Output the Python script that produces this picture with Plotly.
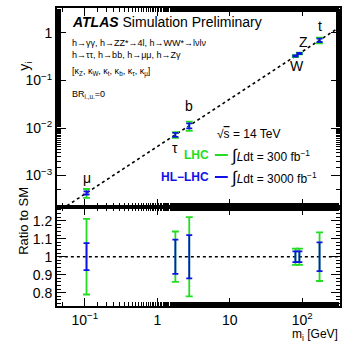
import numpy as np
import plotly.graph_objects as go

# ---- data ----
particles = ["μ", "τ", "b", "W", "Z", "t"]
masses = [0.1057, 1.777, 2.76, 80.4, 91.2, 173.0]
yvals = [4.3e-4, 7.2e-3, 1.12e-2, 0.327, 0.371, 0.703]
err_lhc = [0.21, 0.14, 0.22, 0.045, 0.045, 0.135]
err_hl = [0.075, 0.095, 0.12, 0.03, 0.03, 0.08]
ratio = [1, 1, 1, 1, 1, 1]
line_m = [0.03, 500.0]
line_y = [0.03 / 246.0, 500.0 / 246.0]
xtick_vals = [0.1, 1, 10, 100]
xtick_text = ["10<sup>−1</sup>", "1", "10", "10<sup>2</sup>"]
ytick_vals = [1e-3, 1e-2, 1e-1, 1]
ytick_text = ["10<sup>−3</sup>", "10<sup>−2</sup>", "10<sup>−1</sup>", "1"]
rtick_vals = [0.8, 0.9, 1.0, 1.1, 1.2]
rtick_text = ["0.8", "0.9", "1", "1.1", "1.2"]
label_shift = [(0, 15), (0, -13), (0, 20), (2, -10), (4, 11), (0, 14)]

GREEN = "#22dd22"
BLUE = "#1010e8"
FONT = "Liberation Sans"

W, H = 347, 342
ML, MR, MT, MB = 57, 5, 8, 36
split_px = 207
pw = W - ML - MR
ph = H - MT - MB


def px_x(p):
    return (p - ML) / pw


def px_y(p):
    return (H - MB - p) / ph


split = px_y(split_px)

fig = go.Figure()

# top panel
fig.add_trace(go.Scatter(x=line_m, y=line_y, mode="lines",
                         line=dict(color="black", width=1.6, dash="dot"),
                         xaxis="x", yaxis="y", showlegend=False, hoverinfo="skip"))
yv = np.array(yvals)
fig.add_trace(go.Scatter(x=masses, y=yvals, mode="markers",
                         marker=dict(size=1, color=GREEN),
                         error_y=dict(type="data", symmetric=False,
                                      array=list(yv * np.array(err_lhc)),
                                      arrayminus=list(yv * np.array(err_lhc)),
                                      color=GREEN, thickness=1.8, width=3.5),
                         xaxis="x", yaxis="y", showlegend=False))
fig.add_trace(go.Scatter(x=masses, y=yvals, mode="markers",
                         marker=dict(size=1, color=BLUE),
                         error_y=dict(type="data", symmetric=False,
                                      array=list(yv * np.array(err_hl)),
                                      arrayminus=list(yv * np.array(err_hl)),
                                      color=BLUE, thickness=1.8, width=3),
                         xaxis="x", yaxis="y", showlegend=False))

# bottom panel
fig.add_trace(go.Scatter(x=line_m, y=[1, 1], mode="lines",
                         line=dict(color="black", width=1.6, dash="dot"),
                         xaxis="x2", yaxis="y2", showlegend=False, hoverinfo="skip"))
fig.add_trace(go.Scatter(x=masses, y=ratio, mode="markers",
                         marker=dict(size=1, color=GREEN),
                         error_y=dict(type="data", array=err_lhc, color=GREEN,
                                      thickness=1.8, width=3.5),
                         xaxis="x2", yaxis="y2", showlegend=False))
fig.add_trace(go.Scatter(x=masses, y=ratio, mode="markers",
                         marker=dict(size=1, color=BLUE),
                         error_y=dict(type="data", array=err_hl, color=BLUE,
                                      thickness=1.8, width=3),
                         xaxis="x2", yaxis="y2", showlegend=False))

xrange = [-1.383, 2.52]
axis_common = dict(showline=True, linecolor="black", linewidth=2, mirror="allticks",
                   ticks="inside", tickcolor="black", tickwidth=1.2, showgrid=False,
                   zeroline=False, tickfont=dict(family=FONT, size=14, color="black"))

fig.update_layout(
    width=W, height=H,
    margin=dict(l=ML, r=MR, t=MT, b=MB),
    paper_bgcolor="white", plot_bgcolor="white",
    xaxis=dict(type="log", range=xrange, domain=[0, 1], anchor="y",
               tickvals=xtick_vals, ticktext=xtick_text, showticklabels=False,
               ticklen=8, minor=dict(ticks="inside", ticklen=4, tickcolor="black", showgrid=False),
               **axis_common),
    yaxis=dict(type="log", range=[-3.663, 0.526], domain=[split, 1], anchor="x",
               tickvals=ytick_vals, ticktext=ytick_text, ticklen=9,
               minor=dict(ticks="inside", ticklen=4, tickcolor="black", showgrid=False),
               **axis_common),
    xaxis2=dict(type="log", range=xrange, domain=[0, 1], anchor="y2",
                tickvals=xtick_vals, ticktext=xtick_text, ticklen=8,
                minor=dict(ticks="inside", ticklen=4, tickcolor="black", showgrid=False),
                **axis_common),
    yaxis2=dict(range=[0.726, 1.276], domain=[0, split], anchor="x2",
                tickvals=rtick_vals, ticktext=rtick_text, ticklen=9,
                minor=dict(ticks="inside", ticklen=4, dtick=0.02, tickcolor="black", showgrid=False),
                **axis_common),
)

ann = []
# particle labels
for name, m, y, (dx, dy) in zip(particles, masses, yvals, label_shift):
    ann.append(dict(x=np.log10(m), y=np.log10(y), xref="x", yref="y", text=name,
                    showarrow=False, xshift=dx, yshift=dy,
                    font=dict(family=FONT, size=14, color="black")))

# header texts
ann.append(dict(x=px_x(70), y=px_y(22), xref="paper", yref="paper", xanchor="left",
                yanchor="middle", showarrow=False,
                text="<b><i>ATLAS</i></b> Simulation Preliminary",
                font=dict(family=FONT, size=14, color="black")))
small = dict(family=FONT, size=9, color="black")
for txt, py in [("h→γγ, h→ZZ*→4l, h→WW*→lνlν", 43),
                ("h→ττ, h→bb, h→μμ, h→Zγ", 55),
                ("[κ<sub>Z</sub>, κ<sub>W</sub>, κ<sub>t</sub>, κ<sub>b</sub>, κ<sub>τ</sub>, κ<sub>μ</sub>]", 72),
                ("BR<sub>i.,u.</sub>=0", 94)]:
    ann.append(dict(x=px_x(70), y=px_y(py), xref="paper", yref="paper", xanchor="left",
                    yanchor="middle", showarrow=False, text=txt, font=small))

# legend-like block
lf = dict(family=FONT, size=12, color="black")
ann.append(dict(x=px_x(216), y=px_y(134), xref="paper", yref="paper", xanchor="left",
                yanchor="middle", showarrow=False, text="√<span style='text-decoration:overline'>s</span> = 14 TeV", font=lf))
ann.append(dict(x=px_x(212), y=px_y(155), xref="paper", yref="paper", xanchor="right",
                yanchor="middle", showarrow=False, text="<b>LHC</b>",
                font=dict(family=FONT, size=12, color=GREEN)))
ann.append(dict(x=px_x(212), y=px_y(177), xref="paper", yref="paper", xanchor="right",
                yanchor="middle", showarrow=False, text="<b>HL−LHC</b>",
                font=dict(family=FONT, size=12, color=BLUE)))
ann.append(dict(x=px_x(230), y=px_y(155), xref="paper", yref="paper", xanchor="left",
                yanchor="middle", showarrow=False,
                text="<span style='font-size:17px'>∫</span><i>L</i>dt = 300 fb<sup>−1</sup>", font=lf))
ann.append(dict(x=px_x(230), y=px_y(177), xref="paper", yref="paper", xanchor="left",
                yanchor="middle", showarrow=False,
                text="<span style='font-size:17px'>∫</span><i>L</i>dt = 3000 fb<sup>−1</sup>", font=lf))

# axis titles
ann.append(dict(x=px_x(13), y=px_y(60), xref="paper", yref="paper", textangle=-90,
                showarrow=False, text="y<sub>i</sub>", font=dict(family=FONT, size=14, color="black")))
ann.append(dict(x=px_x(13), y=px_y(257), xref="paper", yref="paper", textangle=-90,
                showarrow=False, text="Ratio to SM", font=dict(family=FONT, size=13, color="black")))
ann.append(dict(x=px_x(342), y=px_y(335), xref="paper", yref="paper", xanchor="right",
                yanchor="middle", showarrow=False, text="m<sub>i</sub> [GeV]",
                font=dict(family=FONT, size=12, color="black")))
fig.update_layout(annotations=ann)

shapes = []
for py, col in [(155, GREEN), (177, BLUE)]:
    shapes.append(dict(type="line", xref="paper", yref="paper", x0=px_x(216), x1=px_x(229),
                       y0=px_y(py), y1=px_y(py), line=dict(color=col, width=2)))
fig.update_layout(shapes=shapes)

fig.write_html("out.html")
